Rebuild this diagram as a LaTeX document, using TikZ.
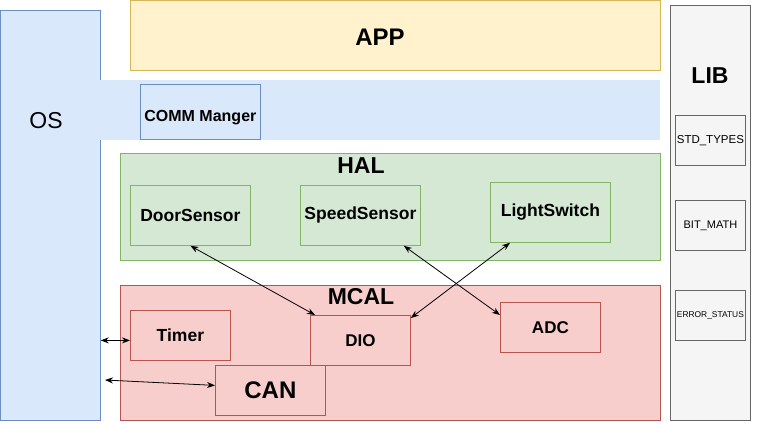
\documentclass[tikz,border=0pt]{standalone}
\usepackage{fontspec}
\setmainfont{Liberation Sans}
\usetikzlibrary{positioning,arrows.meta}
\definecolor{appfill}{HTML}{FFF2CC}
\definecolor{appline}{HTML}{D6B656}
\definecolor{osfill}{HTML}{DAE8FC}
\definecolor{osline}{HTML}{6C8EBF}
\definecolor{halfill}{HTML}{D5E8D4}
\definecolor{halline}{HTML}{82B366}
\definecolor{mcalfill}{HTML}{F8CECC}
\definecolor{mcalline}{HTML}{B85450}
\definecolor{libfill}{HTML}{F5F5F5}
\definecolor{libline}{HTML}{666666}
\newcommand{\pxfont}[1]{\fontsize{#1}{#1}\selectfont}
\tikzset{/arch/box/.style={
	shape=rectangle, draw, inner sep=0, anchor=north west, align=center
}}
\tikzset{/arch/os/.style={/arch/box, fill=osfill, draw=osline}}
\tikzset{/arch/band/.style={/arch/box, fill=osfill, draw=none}}
\tikzset{/arch/app/.style={/arch/box, fill=appfill, draw=appline}}
\tikzset{/arch/hal/.style={/arch/box, fill=halfill, draw=halline}}
\tikzset{/arch/mcal/.style={/arch/box, fill=mcalfill, draw=mcalline}}
\tikzset{/arch/lib/.style={/arch/box, fill=libfill, draw=libline}}
\begin{document}
\begin{tikzpicture}[x=1pt, y=-1pt, >={Stealth[length=8pt, width=6pt]}, line width=0.8pt]
			\useasboundingbox (0,0) rectangle (761,421);
			\path (0,10) node[/arch/os, minimum width=100pt, minimum height=410pt] (OS) {};
			\path (46,121) node[font=\pxfont{23}] (OSLabel) {OS};
			\path (99.5,80) node[/arch/band, minimum width=560.5pt, minimum height=60pt] (Band) {};
			\path (130,0) node[/arch/app, minimum width=530pt, minimum height=70pt] (App) {};
			\path (380,37) node[font=\pxfont{24}\bfseries] (AppLabel) {APP};
			\path (140,84) node[/arch/os, minimum width=120pt, minimum height=55pt, text height=23pt, font=\pxfont{16}\bfseries] (Comm) {COMM Manger};
			\path (120,153) node[/arch/hal, minimum width=540pt, minimum height=107pt] (HAL) {};
			\path (361,166) node[font=\pxfont{23}\bfseries] (HALLabel) {HAL};
			\path (130,185) node[/arch/hal, minimum width=120pt, minimum height=60pt, font=\pxfont{17.5}\bfseries] (Door) {DoorSensor};
			\path (300,185) node[/arch/hal, minimum width=120pt, minimum height=60pt, font=\pxfont{17.5}\bfseries] (Speed) {SpeedSensor};
			\path (490,182) node[/arch/hal, minimum width=120pt, minimum height=60pt, font=\pxfont{17.5}\bfseries] (Light) {LightSwitch};
			\path (120,285) node[/arch/mcal, minimum width=540pt, minimum height=135pt] (MCAL) {};
			\path (361,297) node[font=\pxfont{23}\bfseries] (MCALLabel) {MCAL};
			\path (130,310) node[/arch/mcal, minimum width=100pt, minimum height=50pt, font=\pxfont{17.5}\bfseries] (Timer) {Timer};
			\path (310,315) node[/arch/mcal, minimum width=100pt, minimum height=50pt, font=\pxfont{17}\bfseries] (DIO) {DIO};
			\path (500,302) node[/arch/mcal, minimum width=100pt, minimum height=50pt, font=\pxfont{17}\bfseries] (ADC) {ADC};
			\path (215,365) node[/arch/mcal, minimum width=110pt, minimum height=50pt, font=\pxfont{24}\bfseries] (CAN) {CAN};
			\path (670,5) node[/arch/lib, minimum width=80pt, minimum height=415pt] (LIB) {};
			\path (710,76) node[font=\pxfont{23}\bfseries] (LIBLabel) {LIB};
			\path (675,115) node[/arch/lib, minimum width=70pt, minimum height=50pt, font=\pxfont{11.5}] (StdTypes) {STD\_TYPES};
			\path (675,200) node[/arch/lib, minimum width=70pt, minimum height=50pt, font=\pxfont{11}] (BitMath) {BIT\_MATH};
			\path (675,290) node[/arch/lib, minimum width=70pt, minimum height=50pt, font=\pxfont{8.4}] (ErrStatus) {ERROR\_STATUS};
			\coordinate (TimerIn) at ([yshift=-5pt]Timer.west);
			\coordinate (CanOut) at (105,380);
			\path[<->, draw] (Door.south) -- ([xshift=5pt]DIO.north west);
			\path[<->, draw] ([xshift=-17pt]Speed.south east) -- ([yshift=-13pt]ADC.north west);
			\path[<->, draw] ([xshift=20pt]Light.south west) -- ([yshift=-3pt]DIO.north east);
			\path[<->, draw] (OS.east |- TimerIn) -- (TimerIn);
			\path[<->, draw] (CanOut) -- ([yshift=5pt]CAN.west);
		\end{tikzpicture}
\end{document}
